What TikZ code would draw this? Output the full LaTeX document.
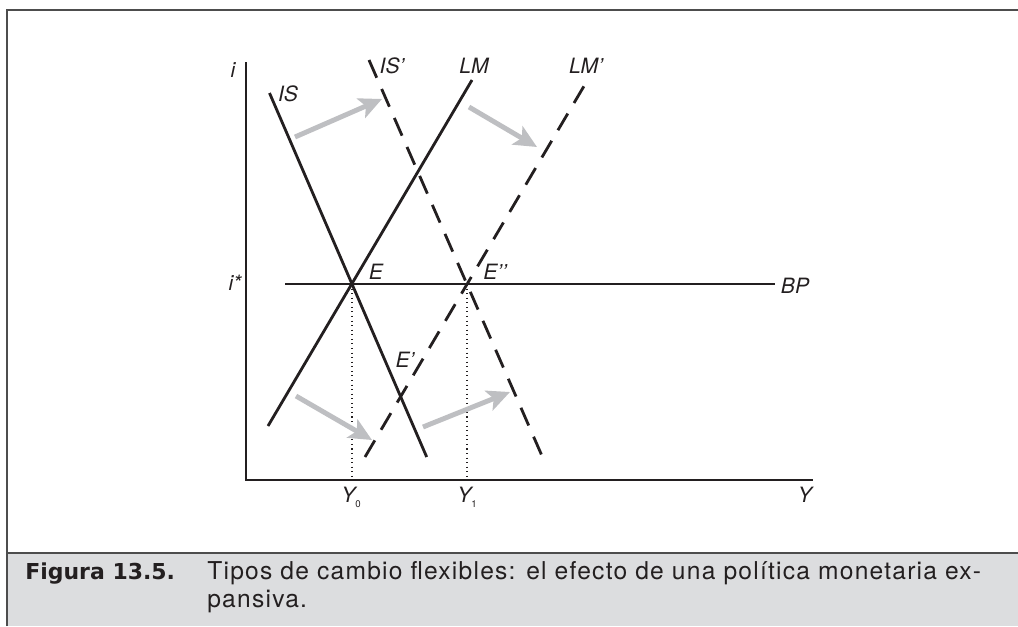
\documentclass[tikz,border=0pt]{standalone}
\usepackage{fontspec}
\setmainfont{TeX Gyre Heros}
\newfontfamily\capfont[LetterSpace=5]{TeX Gyre Heros}
\newfontfamily\capheavy{DejaVu Sans}
\usepackage{tikz}
\usetikzlibrary{arrows.meta,positioning}
\definecolor{inkblack}{HTML}{231F20}
\definecolor{shiftgray}{HTML}{BEBFC2}
\definecolor{capgray}{HTML}{DCDDDF}
\definecolor{framegray}{HTML}{4D4D4D}

\begin{document}
\begin{tikzpicture}[
    x=0.02cm,
    y=-0.02cm,
    font=\fontsize{12}{14}\selectfont,
    lab/.style={inner sep=0pt, text=inkblack, font=\fontsize{12}{14}\selectfont\itshape},
    curve/.style={draw=inkblack, line width=1.6pt},
    shifted/.style={curve, dash pattern=on 11pt off 7pt},
    axis/.style={draw=inkblack, line width=1.1pt},
    guide/.style={draw=inkblack, line width=0.6pt, dotted},
    moveto/.style={-{Stealth[length=13pt, width=12pt, inset=3pt]}, line width=2.8pt, draw=shiftgray}
  ]
    \useasboundingbox (0,0) rectangle (1018,626);
    % frame and caption band
    \fill[capgray] (7,553) rectangle (1018,626);
    \draw[framegray, line width=1.2pt] (7,626) -- (7,10) -- (1018,10);
    \draw[framegray, line width=1.2pt] (7,553) -- (1018,553);
    \node[anchor=base west, inner sep=0pt, text=inkblack, font=\fontsize{12.5}{15}\capheavy\bfseries] (fignum) at (25,579) {Figura 13.5.};
    \node[anchor=base west, inner sep=0pt, align=left, text=inkblack, font=\fontsize{14}{15.9}\capfont] (figtext) at (207,607)
      {Tipos de cambio flexibles: el efecto de una política monetaria ex-\\pansiva.};

    % axes
    \coordinate (O) at (246,480);
    \coordinate (itop) at (246,62);
    \coordinate (Yend) at (813,480);
    \draw[axis] (itop) -- (O) -- (Yend);
    \node[lab] (ilab) at (233,70) {i};
    \node[lab] (Ylab) at (805,495) {Y};

    % BP line and equilibria
    \coordinate (BPstart) at (285,284);
    \coordinate (BPend) at (775,284);
    \coordinate (E) at (352,284);
    \coordinate (E2) at (467,284);
    \draw[line width=0.9pt, inkblack] (BPstart) -- (BPend);
    \node[lab] (istar) at (235,283) {i*};
    \node[lab] (BPlab) at (795,286) {BP};

    % IS and LM curves
    \coordinate (IStop) at (269.5,93);
    \coordinate (ISbot) at (426.7,457);
    \coordinate (IS2top) at (369,60);
    \coordinate (IS2bot) at (541.6,455);
    \coordinate (LMtop) at (472,80);
    \coordinate (LMbot) at (268,426);
    \coordinate (LM2top) at (587,81);
    \coordinate (LM2bot) at (365,457);
    \draw[curve] (IStop) -- (ISbot);
    \draw[curve] (LMbot) -- (LMtop);
    \draw[shifted] (IS2top) -- (IS2bot);
    \draw[shifted] (LM2bot) -- (LM2top);
    \node[lab] (ISlab) at (288,94) {IS};
    \node[lab] (IS2lab) at (392,66) {IS’};
    \node[lab] (LMlab) at (474,66) {LM};
    \node[lab] (LM2lab) at (586,66) {LM’};
    \node[lab] (Elab) at (376,272) {E};
    \node[lab] (E2lab) at (495,272) {E’’};
    \node[lab] (E1lab) at (405,360) {E’};

    % output levels
    \coordinate (Y0) at (352,480);
    \coordinate (Y1) at (467,480);
    \draw[guide] (E) -- (Y0);
    \draw[guide] (E2) -- (Y1);
    \node[lab] (Y0lab) at (351,497) {Y\raisebox{-0.45ex}{\upshape\fontsize{5.5}{6}\selectfont 0}};
    \node[lab] (Y1lab) at (467,497) {Y\raisebox{-0.45ex}{\upshape\fontsize{5.5}{6}\selectfont 1}};

    % shifts
    \coordinate (a1) at (295,137);
    \coordinate (b1) at (382,99);
    \coordinate (a2) at (469,107);
    \coordinate (b2) at (537,147);
    \coordinate (a3) at (296,396);
    \coordinate (b3) at (372,440);
    \coordinate (a4) at (423,427);
    \coordinate (b4) at (510,392);
    \draw[moveto] (a1) -- (b1);
    \draw[moveto] (a2) -- (b2);
    \draw[moveto] (a3) -- (b3);
    \draw[moveto] (a4) -- (b4);
\end{tikzpicture}
\end{document}
